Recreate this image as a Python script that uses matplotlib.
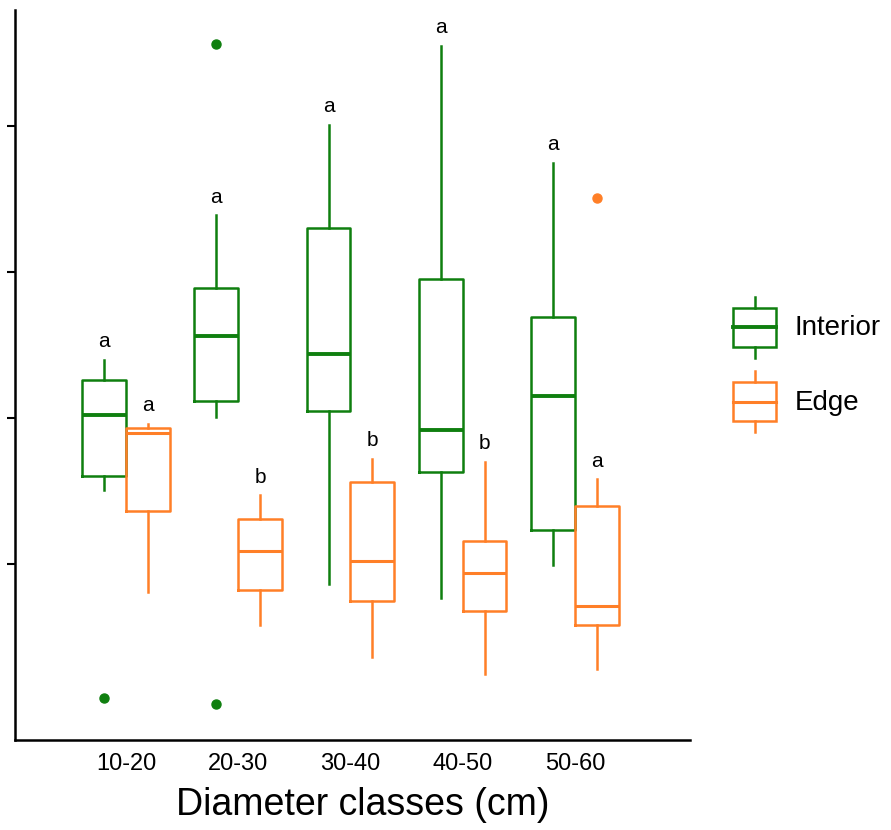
import matplotlib
matplotlib.use('Agg')
import matplotlib.pyplot as plt
from matplotlib.legend_handler import HandlerBase
from matplotlib.lines import Line2D
from matplotlib.patches import Rectangle

plt.rcParams['font.family'] = ['Liberation Sans', 'DejaVu Sans']

classes = ['10-20', '20-30', '30-40', '40-50', '50-60']

# interior: whisker low, Q1, median, Q3, whisker high
int_wlo = [1.51, 2.01, 0.86, 0.77, 0.99]
int_q1 = [1.60, 2.12, 2.05, 1.63, 1.23]
int_med = [2.02, 2.56, 2.44, 1.92, 2.15]
int_q3 = [2.26, 2.89, 3.30, 2.95, 2.69]
int_whi = [2.40, 3.39, 4.01, 4.55, 3.75]
int_out = [[0.08], [4.56, 0.04], [], [], []]
int_letters = ['a', 'a', 'a', 'a', 'a']

# edge
edge_wlo = [0.81, 0.58, 0.36, 0.25, 0.28]
edge_q1 = [1.36, 0.82, 0.75, 0.68, 0.58]
edge_med = [1.90, 1.09, 1.02, 0.94, 0.71]
edge_q3 = [1.93, 1.31, 1.56, 1.16, 1.40]
edge_whi = [1.96, 1.47, 1.72, 1.70, 1.58]
edge_out = [[], [], [], [], [3.51]]
edge_letters = ['a', 'b', 'b', 'b', 'a']

green = '#0f7f0f'
orange = '#ff7f27'


def make_stats(wlo, q1, med, q3, whi, out):
    stats = []
    for i in range(len(med)):
        stats.append({'whislo': wlo[i], 'q1': q1[i], 'med': med[i],
                      'q3': q3[i], 'whishi': whi[i], 'fliers': out[i]})
    return stats


def draw_group(ax, stats, pos, color, med_lw):
    ax.bxp(stats, positions=pos, widths=0.39, showcaps=False,
           boxprops=dict(color=color, linewidth=1.8),
           whiskerprops=dict(color=color, linewidth=1.8),
           medianprops=dict(color=color, linewidth=med_lw),
           flierprops=dict(marker='o', markerfacecolor=color,
                           markeredgecolor=color, markersize=6.5))


class BoxHandler(HandlerBase):
    def create_artists(self, legend, orig_handle, xdescent, ydescent,
                       width, height, fontsize, trans):
        c = orig_handle.get_color()
        lw = orig_handle.get_linewidth()
        x0, y0 = -xdescent, -ydescent
        b0 = y0 + height * 11 / 61
        b1 = y0 + height * 50 / 61
        xm = x0 + width / 2
        box = Rectangle((x0, b0), width, b1 - b0, fill=False, edgecolor=c,
                        linewidth=1.8, transform=trans)
        med = Line2D([x0, x0 + width], [(b0 + b1) / 2] * 2, color=c,
                     linewidth=lw, transform=trans)
        wl = Line2D([xm, xm], [y0, b0], color=c, linewidth=1.8, transform=trans)
        wh = Line2D([xm, xm], [b1, y0 + height], color=c, linewidth=1.8,
                    transform=trans)
        return [box, med, wl, wh]


fig = plt.figure(figsize=(8.91, 8.30), dpi=100)
ax = fig.add_axes([15 / 891, 90 / 830, 675 / 891, 730 / 830])

x = list(range(1, len(classes) + 1))
int_pos = [p - 0.195 for p in x]
edge_pos = [p + 0.195 for p in x]

draw_group(ax, make_stats(int_wlo, int_q1, int_med, int_q3, int_whi, int_out),
           int_pos, green, 2.8)
draw_group(ax, make_stats(edge_wlo, edge_q1, edge_med, edge_q3, edge_whi, edge_out),
           edge_pos, orange, 2.2)

for i in range(len(classes)):
    ax.annotate(int_letters[i], (int_pos[i], int_whi[i]), xytext=(0, 9),
                textcoords='offset points', ha='center', va='baseline',
                fontsize=15)
    ax.annotate(edge_letters[i], (edge_pos[i], edge_whi[i]), xytext=(0, 9),
                textcoords='offset points', ha='center', va='baseline',
                fontsize=15)

ax.set_xlim(0.011, 6.025)
ax.set_ylim(-0.2055, 4.795)
ax.set_xticks(x)
ax.set_xticklabels(classes, fontsize=17)
ax.tick_params(axis='x', length=0, pad=9)
ax.set_yticks([1, 2, 3, 4])
ax.set_yticklabels([])
ax.tick_params(axis='y', length=6, width=1.5, direction='out')
ax.spines['top'].set_visible(False)
ax.spines['right'].set_visible(False)
ax.spines['left'].set_linewidth(1.8)
ax.spines['bottom'].set_linewidth(1.8)
ax.set_xlabel('Diameter classes (cm)', fontsize=27, labelpad=14)
ax.xaxis.set_label_coords(363 / 675 - 15 / 675, -0.065)

h_int = Line2D([], [], color=green, linewidth=2.8)
h_edge = Line2D([], [], color=orange, linewidth=2.2)
fig.legend([h_int, h_edge], ['Interior', 'Edge'],
           handler_map={Line2D: BoxHandler()},
           loc='center left', bbox_to_anchor=(733 / 891, 1 - 364.5 / 830),
           frameon=False, fontsize=20, handlelength=1.55, handleheight=3.0,
           labelspacing=0.5, handletextpad=0.68, borderpad=0, borderaxespad=0)

fig.savefig('out.png', dpi=100)
